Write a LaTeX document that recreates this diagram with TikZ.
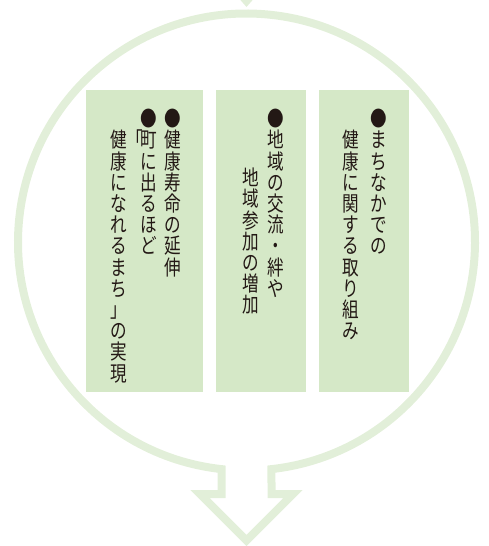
\documentclass[tikz,border=0pt]{standalone}
\usepackage{fontspec}
\newfontfamily\jpfont[FakeStretch=0.79]{Noto Sans CJK JP}
\usetikzlibrary{calc}
\definecolor{ringgreen}{RGB}{226,239,217}
\definecolor{boxgreen}{RGB}{213,232,199}
\definecolor{inkblack}{RGB}{35,24,21}
\newcommand{\cellstrut}{\rule[-0.12em]{0pt}{1em}}

\begin{document}
\begin{tikzpicture}[x=1pt, y=-1pt, line join=miter,
	ring/.style={draw=ringgreen, line width=8pt},
	panel/.style={fill=boxgreen, inner sep=0pt, minimum height=302pt},
	tate/.style={anchor=north, inner sep=0pt, align=center, text=inkblack,
		font=\jpfont\fontsize{21}{21.2}\selectfont}]
	% frame
	\useasboundingbox (0,0) rectangle (488,546);
	% coordinates
	\coordinate (O) at (246.5,242);
	\coordinate (R) at ($(O)+(83.72:228.5)$);
	\coordinate (L) at ($(O)+(96.28:228.5)$);
	% tip from above
	\fill[ringgreen] (239.5,-1) -- (253.5,-1) -- (246.5,7) -- cycle;
	% ring with arrow
	\draw[ring] (R) -- (271.5,494) -- (293,494) -- (246.5,540.5) -- (200,494)
		-- (221.5,494) -- (L) arc[start angle=96.28, end angle=443.72, radius=228.5] -- cycle;
	% panels
	\node[panel, minimum width=117pt] (box1) at (144.5,241) {};
	\node[panel, minimum width=90pt] (box2) at (261,241) {};
	\node[panel, minimum width=90pt] (box3) at (364,241) {};
	% left panel
	\node[tate] (t11) at (173,108) {\cellstrut●\\健\\康\\寿\\命\\の\\延\\伸};
	\node[tate] (t12) at (148.5,108) {\cellstrut●\\\llap{「\hspace{-0.12em}}町\\に\\出\\る\\ほ\\ど};
	\node[tate] (t13) at (119,129.2) {\cellstrut 健\\康\\に\\な\\れ\\る\\ま\\ち\\」\\の\\実\\現};
	% middle panel
	\node[tate] (t21) at (276,108) {\cellstrut●\\地\\域\\の\\交\\流\\・\\絆\\や};
	\node[tate] (t22) at (251,167) {\cellstrut 地\\域\\参\\加\\の\\増\\加};
	% right panel
	\node[tate] (t31) at (379,108) {\cellstrut●\\ま\\ち\\な\\か\\で\\の};
	\node[tate] (t32) at (351,129.2) {\cellstrut 健\\康\\に\\関\\す\\る\\取\\り\\組\\み};
\end{tikzpicture}
\end{document}
